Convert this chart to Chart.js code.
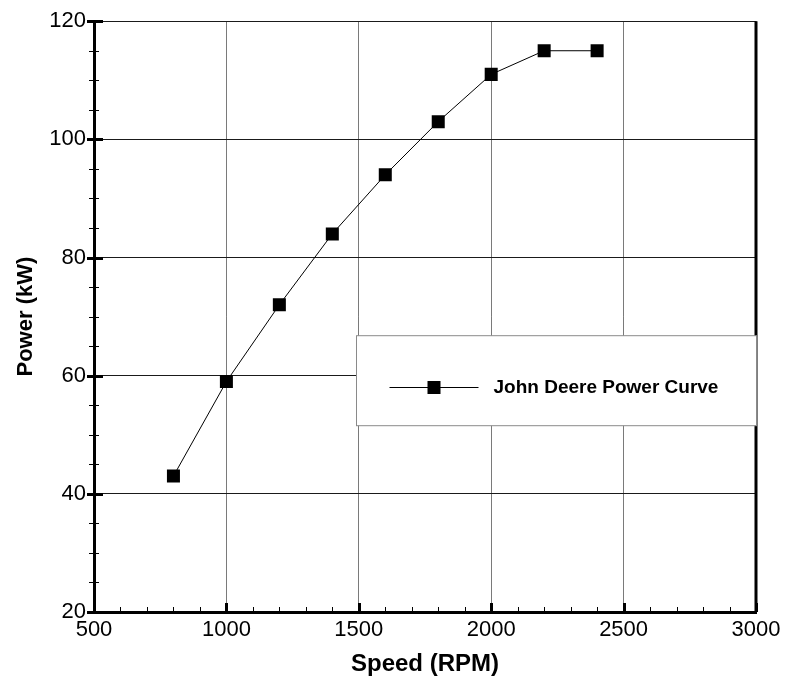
<!DOCTYPE html>
<html>
<head>
<meta charset="utf-8">
<title>John Deere Power Curve</title>
<script src="https://cdn.jsdelivr.net/npm/chart.js@4/dist/chart.umd.min.js"></script>
<style>
    html, body { margin: 0; padding: 0; background: #fff; }
    #chart { display: block; }
</style>
</head>
<body>
<canvas id="chart" width="786" height="679"></canvas>
<script>
    "use strict";

    // data
    var speedRpm = [800, 1000, 1200, 1400, 1600, 1800, 2000, 2200, 2400];
    var powerKw = [43, 59, 72, 84, 94, 103, 111, 115, 115];
    var seriesLabel = "John Deere Power Curve";

    var xTitle = "Speed (RPM)";
    var yTitle = "Power (kW)";
    var xRange = [500, 3000];
    var yRange = [20, 120];
    var xMajorStep = 500, xMinorStep = 100;
    var yMajorStep = 20, yMinorStep = 5;

    var FONT = "Arial, 'Liberation Sans', Helvetica, sans-serif";

    // minor ticks, thick frame on the right, axis titles and the boxed legend
    var decorPlugin = {
        id: "decor",
        afterDraw: function(chart) {
            var ctx = chart.ctx;
            var area = chart.chartArea;
            var xs = chart.scales.x;
            var ys = chart.scales.y;
            var v, px, major;

            ctx.save();
            ctx.strokeStyle = "#000";

            // x ticks (inside, pointing up)
            for (v = xRange[0]; v <= xRange[1]; v += xMinorStep) {
                major = (v % xMajorStep) === 0;
                px = Math.round(xs.getPixelForValue(v)) + 0.5;
                ctx.lineWidth = major ? 3 : 1;
                ctx.beginPath();
                ctx.moveTo(px, area.bottom);
                ctx.lineTo(px, area.bottom - (major ? 9 : 5));
                ctx.stroke();
            }
            // y ticks (across the axis)
            for (v = yRange[0]; v <= yRange[1]; v += yMinorStep) {
                major = (v % yMajorStep) === 0;
                px = Math.round(ys.getPixelForValue(v)) + 0.5;
                ctx.lineWidth = major ? 3 : 1;
                ctx.beginPath();
                ctx.moveTo(area.left - (major ? 7 : 5), px);
                ctx.lineTo(area.left + (major ? 9 : 5), px);
                ctx.stroke();
            }

            // right frame
            ctx.lineWidth = 3;
            ctx.beginPath();
            ctx.moveTo(area.right, area.top);
            ctx.lineTo(area.right, area.bottom);
            ctx.stroke();

            // axis titles
            ctx.fillStyle = "#000";
            ctx.textAlign = "center";
            ctx.textBaseline = "middle";
            ctx.font = "bold 24px " + FONT;
            ctx.fillText(xTitle, (area.left + area.right) / 2, area.bottom + 52);
            ctx.font = "bold 22px " + FONT;
            ctx.save();
            ctx.translate(area.left - 68, (area.top + area.bottom) / 2);
            ctx.rotate(-Math.PI / 2);
            ctx.fillText(yTitle, 0, 0);
            ctx.restore();

            // legend box
            var bw = 400, bh = 90;
            var bx = area.right - bw + 0.5;
            var by = area.top + 314 + 0.5;
            ctx.fillStyle = "#fff";
            ctx.fillRect(bx, by, bw, bh);
            ctx.strokeStyle = "#8a8a8a";
            ctx.lineWidth = 1;
            ctx.strokeRect(bx, by, bw, bh);

            var ly = Math.round(by + bh / 2 + 6) + 0.5;
            ctx.strokeStyle = "#000";
            ctx.beginPath();
            ctx.moveTo(bx + 33, ly);
            ctx.lineTo(bx + 122, ly);
            ctx.stroke();
            ctx.fillStyle = "#000";
            ctx.fillRect(bx + 71, ly - 6.5, 13, 13);

            ctx.font = "bold 19px " + FONT;
            ctx.textAlign = "left";
            ctx.fillText(chart.data.datasets[0].label, bx + 137, ly);

            ctx.restore();
        }
    };

    // plain numbers, no thousands separator
    var plainLabel = function(value) {
        return String(value);
    };

    var ctx = document.getElementById("chart").getContext("2d");
    var chart = new Chart(ctx, {
        type: "line",
        data: {
            datasets: [{
                label: seriesLabel,
                data: speedRpm.map(function(s, i) {
                    return { x: s, y: powerKw[i] };
                }),
                borderColor: "#000",
                borderWidth: 1,
                backgroundColor: "#000",
                pointStyle: "rect",
                pointRadius: 9.2,
                pointBorderWidth: 0,
                pointBackgroundColor: "#000",
                tension: 0,
                fill: false
            }]
        },
        plugins: [decorPlugin],
        options: {
            responsive: false,
            animation: false,
            events: [],
            layout: {
                padding: { top: 21, right: 30, left: 0, bottom: 0 }
            },
            plugins: {
                legend: { display: false },
                tooltip: { enabled: false }
            },
            scales: {
                x: {
                    type: "linear",
                    min: xRange[0],
                    max: xRange[1],
                    afterFit: function(scale) { scale.height = 67; },
                    ticks: {
                        stepSize: xMajorStep,
                        color: "#000",
                        padding: 5,
                        maxRotation: 0,
                        callback: plainLabel,
                        font: { family: FONT, size: 22 }
                    },
                    grid: { color: "#7a7a7a", lineWidth: 1, drawTicks: false },
                    border: { display: true, color: "#000", width: 3 }
                },
                y: {
                    type: "linear",
                    min: yRange[0],
                    max: yRange[1],
                    afterFit: function(scale) { scale.width = 94; },
                    ticks: {
                        stepSize: yMajorStep,
                        color: "#000",
                        padding: 8,
                        callback: plainLabel,
                        font: { family: FONT, size: 22 }
                    },
                    grid: { color: "#1a1a1a", lineWidth: 1, drawTicks: false },
                    border: { display: true, color: "#000", width: 3 }
                }
            }
        }
    });
</script>
</body>
</html>
